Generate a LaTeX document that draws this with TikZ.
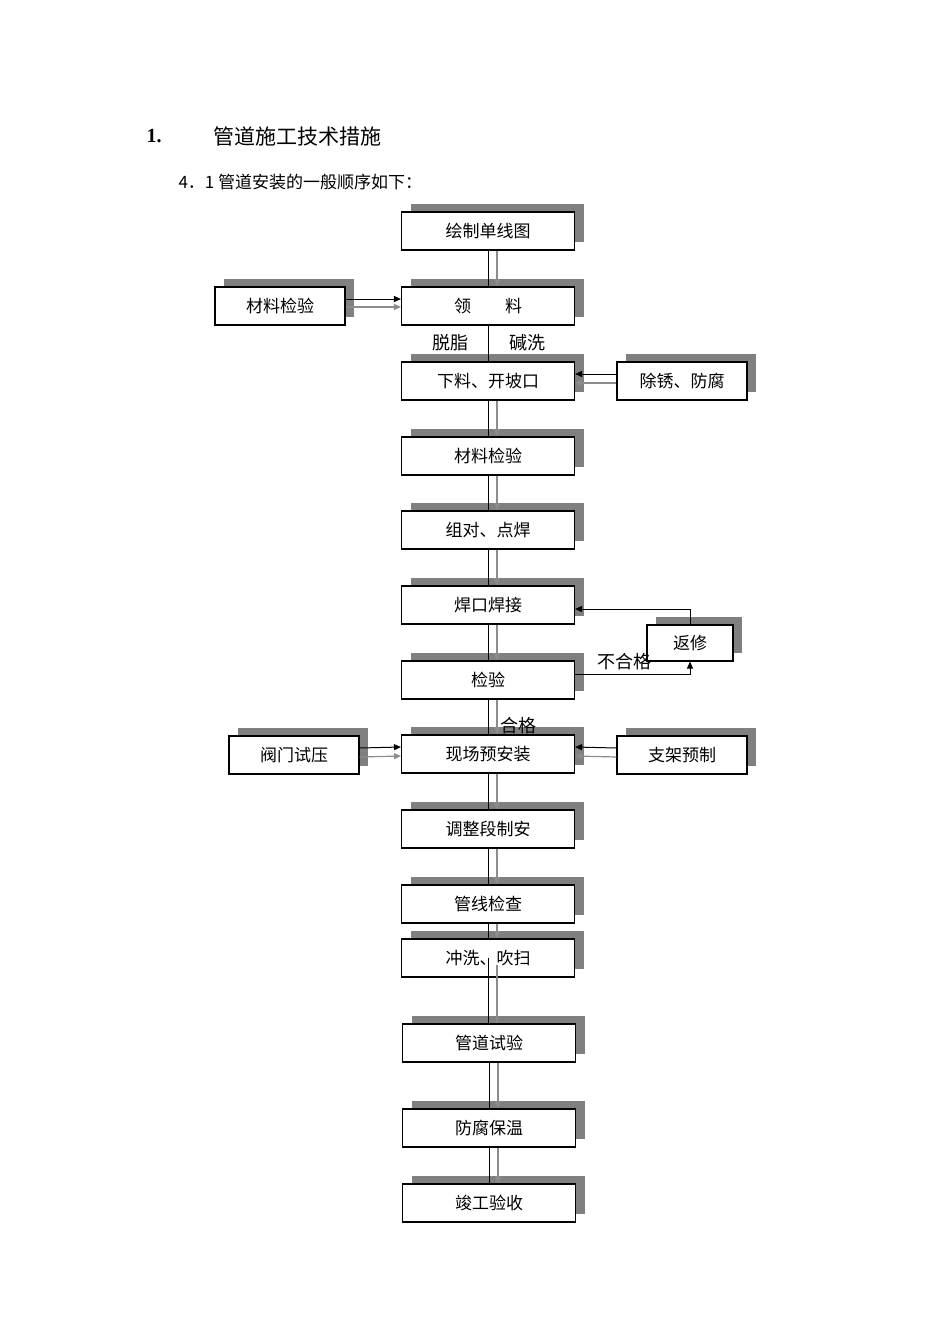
\documentclass[tikz,border=0pt]{standalone}
\usepackage{fontspec}
\setmainfont{Liberation Serif}
\newfontfamily\cjk{Noto Sans CJK SC}
\usetikzlibrary{arrows.meta,shadows}
\definecolor{shade}{RGB}{128,128,128}
\definecolor{flow}{RGB}{140,140,140}
\tikzset{
  box/.style={draw, line width=1.1pt, fill=white, minimum width=173pt, minimum height=38pt, inner sep=0pt,
    font=\cjk\fontsize{17}{17}\selectfont,
    drop shadow={shadow xshift=9pt, shadow yshift=8pt, fill=shade, opacity=1}},
  sbox/.style={box, minimum width=130pt},
  blk/.style={line width=1pt},
  gry/.style={line width=1.2pt, draw=flow, -{Triangle[length=7pt,width=6pt]}},
  blkarr/.style={line width=1pt, -{Triangle[length=7pt,width=6pt]}},
  lbl/.style={font=\cjk\fontsize{18}{18}\selectfont}
}
\begin{document}
\begin{tikzpicture}[x=1pt,y=-1pt]
        \path[use as bounding box] (0,0) rectangle (950,1344);

        % heading
        \node (h1) [anchor=west, font=\bfseries\fontsize{20}{20}\selectfont] at (143,136) {1.};
        \node (h2) [anchor=west, font=\cjk\fontsize{21}{21}\selectfont] at (210,136) {管道施工技术措施};
        \node (h3) [anchor=west, font=\cjk\fontsize{17}{17}\selectfont] at (175,182) {4．1 管道安装的一般顺序如下：};

        % main column
        \node (m1)  [box] at (488,231)  {绘制单线图};
        \node (m2)  [box] at (488,306)  {领\hspace{2em}料};
        \node (m3)  [box] at (488,381)  {下料、开坡口};
        \node (m4)  [box] at (488,456)  {材料检验};
        \node (m5)  [box] at (488,530)  {组对、点焊};
        \node (m6)  [box] at (488,605)  {焊口焊接};
        \node (m7)  [box] at (488,680)  {检验};
        \node (m8)  [box] at (488,754)  {现场预安装};
        \node (m9)  [box] at (488,829)  {调整段制安};
        \node (m10) [box] at (488,904)  {管线检查};
        \node (m11) [box] at (488,958)  {冲洗、吹扫};
        \node (m12) [box] at (489,1043) {管道试验};
        \node (m13) [box] at (489,1128) {防腐保温};
        \node (m14) [box] at (489,1203) {竣工验收};

        % side boxes
        \node (s1) [sbox] at (280,306) {材料检验};
        \node (s2) [sbox] at (682,381) {除锈、防腐};
        \node (s3) [box, minimum width=86pt, minimum height=36pt] at (690,643) {返修};
        \node (s4) [sbox] at (294,755) {阀门试压};
        \node (s5) [sbox] at (682,755) {支架预制};

        % main flow
        \foreach \a/\b in {m1/m2,m3/m4,m4/m5,m5/m6,m6/m7,m7/m8,m8/m9,m9/m10,m10/m11,m12/m13,m13/m14}{
          \draw[blk] (\a.south) -- (\b.north);
          \draw[gry] ([xshift=9pt]\a.south) -- ([xshift=9pt]\b.north);
        }
        \draw[blk] (m2.south) -- (m3.north);
        \draw[blk] ([yshift=20pt]m11.south) -- ([xshift=-1pt]m12.north);
        \draw[line width=1.2pt, draw=flow] ([xshift=9pt,yshift=13pt]m11.south) -- ([xshift=8pt]m12.north);

        % side inputs
        \draw[gry] ([yshift=-1pt]s1.east) -- ([yshift=-1pt]m2.west);
        \draw[blkarr] ([yshift=7pt]s1.east) -- ([yshift=7pt]m2.west);
        \draw[gry] ([yshift=-2pt]s2.west) -- ([yshift=-2pt]m3.east);
        \draw[blkarr] ([yshift=7pt]s2.west) -- ([yshift=7pt]m3.east);
        \draw[gry] ([yshift=-2pt]s4.east) -- ([yshift=-2pt]m8.west);
        \draw[blkarr] ([yshift=7pt]s4.east) -- ([yshift=7pt]m8.west);
        \draw[gry] ([yshift=-2pt]s5.west) -- ([yshift=-2pt]m8.east);
        \draw[blkarr] ([yshift=7pt]s5.west) -- ([yshift=7pt]m8.east);

        % repair loop
        \draw[blkarr] ([yshift=6pt]m7.east) -| (s3.south);
        \draw[blkarr] (s3.north) |- ([yshift=-4pt]m6.east);

        % labels
        \node (t1) [lbl] at (450,343) {脱脂};
        \node (t2) [lbl] at (527,343) {碱洗};
        \node (t3) [lbl] at (624,662) {不合格};
        \node (t4) [lbl] at (518,726) {合格};
\end{tikzpicture}
\end{document}
